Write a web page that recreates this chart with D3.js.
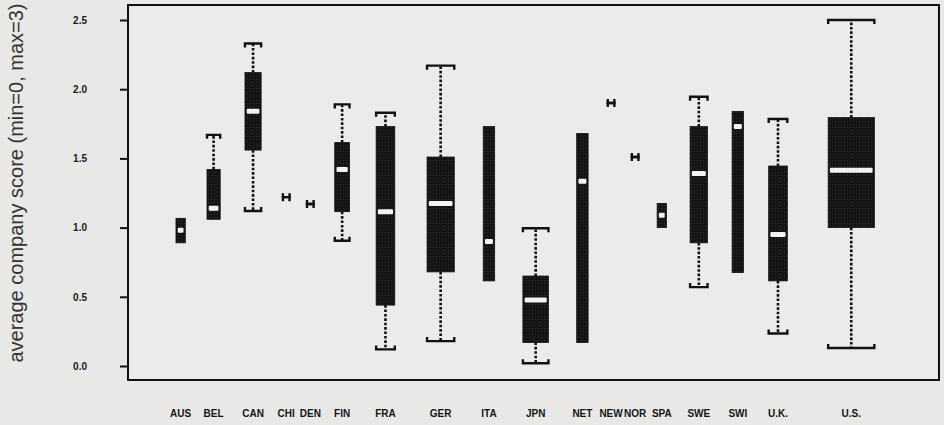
<!DOCTYPE html>
<html>
<head>
<meta charset="utf-8">
<script src="https://cdn.jsdelivr.net/npm/d3@7"></script>
<style>
  html, body { margin: 0; padding: 0; background: #e8e8e7; }
  svg { display: block; }
</style>
</head>
<body>
<svg id="chart" width="944" height="425"></svg>
<script>
// Country groups, ordered as on the axis
const countries = ["AUS","BEL","CAN","CHI","DEN","FIN","FRA","GER","ITA","JPN","NET","NEW","NOR","SPA","SWE","SWI","U.K.","U.S."];
// Number of companies per country (drives box width, varwidth style)
const counts = [2, 4, 6, 1, 1, 5, 8, 17, 3, 15, 3, 1, 1, 2, 7, 3, 8, 49];
// Five-number summaries of the average company score
const whiskerLow   = [0.89, 1.06, 1.12, 1.22, 1.17, 0.905, 0.12, 0.18, 0.615, 0.02, 0.17, 1.90, 1.51, 1.00, 0.57, 0.675, 0.235, 0.13];
const quartileLow  = [0.89, 1.06, 1.56, 1.22, 1.17, 1.115, 0.44, 0.68, 0.615, 0.17, 0.17, 1.90, 1.51, 1.00, 0.89, 0.675, 0.615, 1.00];
const medians      = [0.98, 1.14, 1.84, 1.22, 1.17, 1.42,  1.115, 1.175, 0.90, 0.477, 1.335, 1.90, 1.51, 1.09, 1.39, 1.73, 0.95, 1.415];
const quartileHigh = [1.067, 1.42, 2.12, 1.22, 1.17, 1.615, 1.73, 1.51, 1.73, 0.65, 1.68, 1.90, 1.51, 1.175, 1.73, 1.84, 1.445, 1.795];
const whiskerHigh  = [1.067, 1.67, 2.33, 1.22, 1.17, 1.89, 1.83, 2.17, 1.73, 0.995, 1.68, 1.90, 1.51, 1.175, 1.945, 1.84, 1.785, 2.50];
const yTicks = [0, 0.5, 1.0, 1.5, 2.0, 2.5];
const yTitle = "average company score (min=0, max=3)";

// ---- layout ----
const frame = { left: 128, right: 939, top: 5, bottom: 380 };
const slotPad = 0.915;      // extra room around every box, in sqrt(n) units
const boxFrac = 0.525;      // box width as a share of a sqrt(n) unit
const capTick = 4;

const rows = countries.map((c, i) => ({
  name: c, n: counts[i], s: Math.sqrt(counts[i]),
  lo: whiskerLow[i], q1: quartileLow[i], med: medians[i], q3: quartileHigh[i], hi: whiskerHigh[i]
}));
// cumulative slots: each slot grows with the box width
let acc = 0;
rows.forEach(r => { const w = slotPad + r.s; r.center = acc + w / 2; acc += w; });

const x = d3.scaleLinear().domain([0, acc]).range([frame.left + 38, frame.right - 38]);
const y = d3.scaleLinear().domain([0, 2.5]).range([366, 20]);
const bw = r => x(boxFrac * r.s) - x(0);

const svg = d3.select("#chart");
const defs = svg.append("defs");
const pat = defs.append("pattern").attr("id", "stipple").attr("patternUnits", "userSpaceOnUse")
  .attr("width", 3).attr("height", 3);
pat.append("rect").attr("width", 3).attr("height", 3).attr("fill", "#141414");
pat.append("rect").attr("x", 1).attr("y", 1).attr("width", 1).attr("height", 1).attr("fill", "#2c2c2c");

// plot frame
svg.append("rect")
  .attr("x", frame.left).attr("y", frame.top)
  .attr("width", frame.right - frame.left).attr("height", frame.bottom - frame.top)
  .attr("fill", "#ebebea").attr("stroke", "#111").attr("stroke-width", 2);

// y axis, ticks outside the frame
const yAxis = d3.axisLeft(y).tickValues(yTicks).tickSize(8).tickPadding(33)
  .tickFormat(d3.format(".1f"));
const gy = svg.append("g").attr("transform", `translate(${frame.left},0)`).call(yAxis);
gy.select(".domain").remove();
gy.selectAll(".tick line").attr("stroke", "#111").attr("stroke-width", 2);
gy.selectAll(".tick text").attr("fill", "#1a1a1a")
  .style("font", "bold 10px 'Liberation Sans', Arial, sans-serif");

// y title
svg.append("text")
  .attr("transform", "translate(16,183) rotate(-90)")
  .attr("text-anchor", "middle").attr("dominant-baseline", "central")
  .attr("fill", "#333")
  .style("font", "20px 'Liberation Sans', Arial, sans-serif")
  .text(yTitle);

// x labels under each group
svg.append("g").selectAll("text").data(rows).join("text")
  .attr("x", r => x(r.center)).attr("y", 417)
  .attr("text-anchor", "middle").attr("fill", "#151515")
  .style("font", "bold 10px 'Liberation Sans', Arial, sans-serif")
  .text(r => r.name);

const g = svg.append("g");
rows.forEach(r => {
  const cx = x(r.center), w = bw(r), l = cx - w / 2, rt = cx + w / 2;
  // whiskers (dotted) and caps
  if (r.hi > r.q3) {
    g.append("line").attr("x1", cx).attr("x2", cx).attr("y1", y(r.q3)).attr("y2", y(r.hi))
      .attr("stroke", "#111").attr("stroke-width", 2.6).attr("stroke-dasharray", "2.6,1.8");
  }
  if (r.lo < r.q1) {
    g.append("line").attr("x1", cx).attr("x2", cx).attr("y1", y(r.q1)).attr("y2", y(r.lo))
      .attr("stroke", "#111").attr("stroke-width", 2.6).attr("stroke-dasharray", "2.6,1.8");
  }
  const capTop = yv => `M${l},${yv + capTick}L${l},${yv}L${rt},${yv}L${rt},${yv + capTick}`;
  const capBot = yv => `M${l},${yv - capTick}L${l},${yv}L${rt},${yv}L${rt},${yv - capTick}`;
  if (r.hi > r.q3 || r.n === 1) {
    g.append("path").attr("d", capTop(y(r.hi))).attr("fill", "none").attr("stroke", "#111").attr("stroke-width", 2.4);
  }
  if (r.lo < r.q1 || r.n === 1) {
    g.append("path").attr("d", capBot(y(r.lo))).attr("fill", "none").attr("stroke", "#111").attr("stroke-width", 2.4);
  }
  if (r.n > 1) {
    // interquartile box
    g.append("rect").attr("x", l).attr("y", y(r.q3)).attr("width", w).attr("height", y(r.q1) - y(r.q3))
      .attr("fill", "url(#stipple)").attr("stroke", "#111").attr("stroke-width", 0.8);
    // median bar
    const mw = Math.max(4.5, w - 3.5);
    g.append("rect").attr("x", cx - mw / 2).attr("y", y(r.med) - 2.5).attr("width", mw).attr("height", 5)
      .attr("rx", 1).attr("fill", "#f2f2f0");
  }
});
</script>
</body>
</html>
